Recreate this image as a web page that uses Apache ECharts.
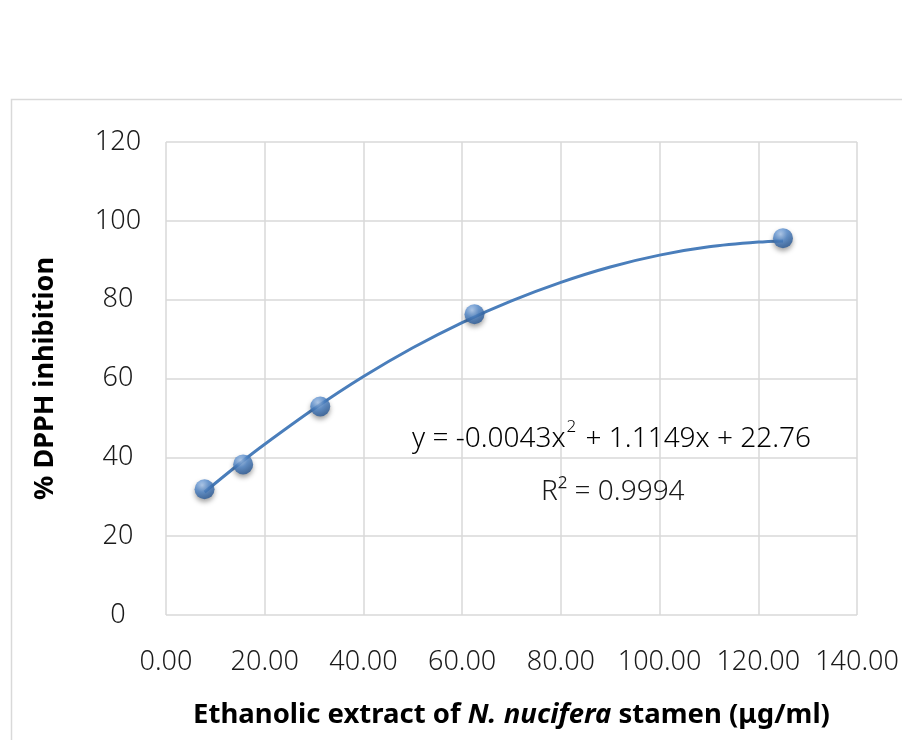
<!DOCTYPE html>
<html>
<head>
<meta charset="utf-8">
<script src="https://cdn.jsdelivr.net/npm/echarts@6/dist/echarts.min.js"></script>
<style>html,body{margin:0;padding:0;background:#fff;}#c{width:902px;height:740px;}</style>
</head>
<body>
<div id="c"></div>
<script>
// Data
var concentrations = [7.81, 15.63, 31.25, 62.5, 125];
var inhibition = [31.9, 38.2, 52.9, 76.3, 95.6];
// Polynomial trendline as drawn in the picture
var trendX = [7.81, 15, 20, 30, 40, 50, 60, 70, 80, 90, 100, 110, 120, 125];
var trendY = [31.2, 38.5, 43.3, 52.3, 60.5, 67.8, 74.2, 79.7, 84.4, 88.3, 91.3, 93.4, 94.6, 94.9];
var xTicks = {min: 0, max: 140, interval: 20};
var yTicks = {min: 0, max: 120, interval: 20};
var equationText = ['y = -0.0043x', '2', ' + 1.1149x + 22.76'];
var r2Text = 'R² = 0.9994';
var yTitle = '% DPPH inhibition';
var xTitleParts = ['Ethanolic extract of ', 'N. nucifera', ' stamen (μg/ml)'];

var FONT = '"Noto Sans", sans-serif';
var chart = echarts.init(document.getElementById('c'));
var pts = concentrations.map(function (x, i) { return [x, inhibition[i]]; });
var trend = trendX.map(function (x, i) { return [x, trendY[i]]; });

chart.setOption({
  animation: false,
  backgroundColor: '#ffffff',
  grid: {left: 166, right: 45, top: 142, bottom: 125, containLabel: false},
  xAxis: {
    type: 'value', min: xTicks.min, max: xTicks.max, interval: xTicks.interval,
    axisLine: {show: false}, axisTick: {show: false},
    splitLine: {show: true, lineStyle: {color: '#d9d9d9', width: 1.5}},
    axisLabel: {
      margin: 34, color: '#1a1a1a', fontFamily: FONT, fontSize: 27, fontWeight: 300,
      formatter: function (v) { return v.toFixed(2); }
    },
    name: '{a|' + xTitleParts[0] + '}{b|' + xTitleParts[1] + '}{a|' + xTitleParts[2] + '}',
    nameLocation: 'middle', nameGap: 86,
    nameTextStyle: {
      rich: {
        a: {fontFamily: FONT, fontSize: 27.5, fontWeight: 'bold', color: '#000'},
        b: {fontFamily: FONT, fontSize: 27.5, fontWeight: 'bold', fontStyle: 'italic', color: '#000'}
      }
    }
  },
  yAxis: {
    type: 'value', min: yTicks.min, max: yTicks.max, interval: yTicks.interval,
    axisLine: {show: false}, axisTick: {show: false},
    splitLine: {show: true, lineStyle: {color: '#d9d9d9', width: 1.5}},
    axisLabel: {margin: 48, align: 'center', color: '#1a1a1a', fontFamily: FONT, fontSize: 27, fontWeight: 300},
    name: yTitle, nameLocation: 'middle', nameGap: 107, nameRotate: 90,
    nameTextStyle: {fontFamily: FONT, fontSize: 27, fontWeight: 'bold', color: '#000'}
  },
  series: [
    {
      type: 'line', data: trend, smooth: 0.3, showSymbol: false, symbol: 'none',
      lineStyle: {color: '#4a7ebb', width: 3}, z: 2, silent: true
    },
    {
      type: 'scatter', data: pts, symbol: 'circle', symbolSize: 20, z: 3,
      itemStyle: {
        color: {
          type: 'radial', x: 0.38, y: 0.3, r: 0.75,
          colorStops: [
            {offset: 0, color: '#a9c8ef'},
            {offset: 0.45, color: '#4f86c9'},
            {offset: 1, color: '#24538f'}
          ]
        },
        shadowBlur: 5, shadowColor: 'rgba(0,0,0,0.45)', shadowOffsetY: 3
      }
    }
  ],
  graphic: [
    {
      type: 'rect', left: 9, top: 97, z: -1, silent: true,
      shape: {width: 900, height: 650},
      style: {fill: 'none', stroke: '#d9d9d9', lineWidth: 1.5}
    },
    {
      type: 'text', left: 412, top: 419, z: 10,
      style: {
        text: '{n|' + equationText[0] + '}{s|' + equationText[1] + '}{n|' + equationText[2] + '}',
        rich: {
          n: {fontFamily: FONT, fontSize: 28, fontWeight: 300, color: '#1a1a1a', verticalAlign: 'bottom', lineHeight: 34},
          s: {fontFamily: FONT, fontSize: 17, fontWeight: 300, color: '#1a1a1a', verticalAlign: 'top', lineHeight: 20, padding: [0, 2, 0, 1]}
        }
      }
    },
    {
      type: 'text', left: 541, top: 475, z: 10,
      style: {text: r2Text, fontFamily: FONT, fontSize: 28, fontWeight: 300, fill: '#1a1a1a', lineHeight: 34}
    }
  ]
});
</script>
</body>
</html>
